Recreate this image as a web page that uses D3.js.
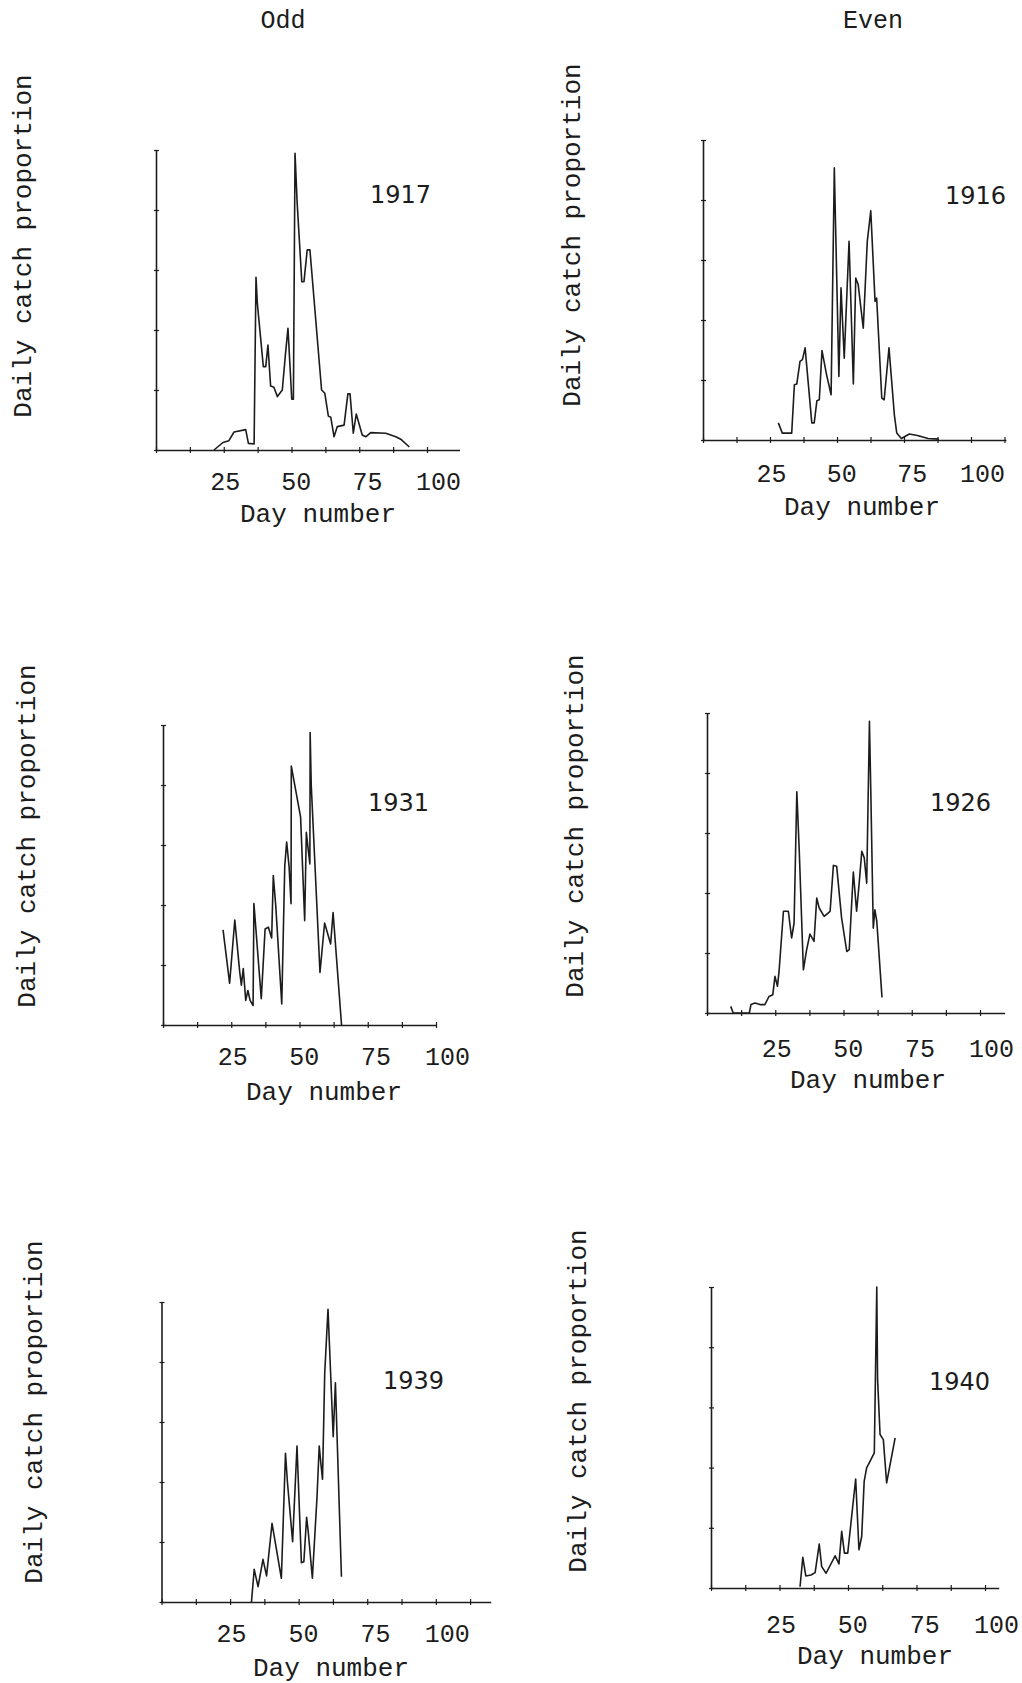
<!DOCTYPE html>
<html>
<head>
<meta charset="utf-8">
<script src="https://cdn.jsdelivr.net/npm/d3@7"></script>
<style>
  body { margin: 0; background: #fff; }
  svg { display: block; }
</style>
</head>
<body>
<svg id="chart" width="1022" height="1683"></svg>
<script>
// daily catch proportion by day number
var days1917 = [21.4, 24.7, 26.9, 28.8, 33.1, 34.1, 36.2, 36.9, 37.4, 39.6, 40.5, 41.3, 42.3, 43.5, 44.8, 46.6, 47.8, 48.7, 50.1, 50.7, 51.3, 52.1, 53.8, 54.6, 55.8, 56.8, 61.1, 62.3, 63.6, 64.5, 65.7, 66.9, 69.4, 70.8, 71.6, 72.8, 73.9, 76.1, 77.4, 79.2, 84.8, 88.5, 90.3, 93.5];
var catch1917 = [0, .0025, .0031, .006, .0068, .0022, .002, .0576, .0489, .0278, .0278, .035, .0213, .0209, .0178, .02, .0322, .0406, .0169, .0169, .0989, .0822, .0561, .0561, .0667, .0667, .02, .0189, .0113, .0109, .0044, .0078, .0083, .0187, .0187, .0056, .012, .005, .0044, .0058, .0056, .0044, .0036, .001];

var days1916 = [28.1, 29.6, 31.6, 33.1, 34.1, 35.0, 36.2, 37.1, 38.1, 40.6, 41.5, 42.5, 43.4, 44.4, 46.1, 47.8, 49.0, 50.7, 51.5, 52.7, 54.5, 56.1, 57.0, 57.9, 59.8, 61.3, 62.6, 64.2, 64.8, 66.7, 67.6, 69.4, 71.4, 72.3, 74.0, 77.0, 80.0, 84.0, 88.0];
var catch1916 = [.0057, .0023, .0023, .0023, .0184, .0187, .0262, .0268, .0307, .0057, .0057, .0131, .0134, .0298, .0218, .0151, .0907, .0212, .0507, .0273, .0662, .0187, .054, .0518, .0373, .0662, .0764, .0462, .0473, .014, .0134, .0307, .0084, .0023, .0005, .002, .0015, .0005, .0003];

var days1931 = [22.0, 24.4, 26.3, 28.1, 28.7, 29.4, 30.3, 31.1, 31.9, 33.0, 33.3, 36.0, 37.4, 38.6, 39.8, 40.4, 41.3, 43.5, 44.6, 45.3, 46.2, 46.9, 47.0, 50.4, 51.9, 52.5, 53.1, 53.8, 53.9, 54.3, 57.5, 59.2, 61.4, 62.3, 65.4];
var catch1931 = [.0317, .0139, .035, .0177, .0133, .0188, .0082, .0115, .0082, .0065, .0405, .0088, .032, .0326, .029, .0498, .0398, .007, .053, .061, .0526, .0404, .0863, .0693, .0348, .0642, .0592, .0537, .0975, .08, .0175, .034, .027, .0375, 0];

var days1926 = [8.7, 9.6, 15.5, 16.1, 17.6, 19.4, 21.2, 22.7, 24.1, 24.9, 25.8, 26.4, 28.0, 29.8, 31.0, 31.9, 32.9, 33.8, 35.3, 36.5, 37.7, 39.2, 40.2, 41.1, 42.9, 45.1, 46.3, 47.5, 49.3, 51.2, 52.1, 53.6, 54.8, 55.7, 56.7, 57.6, 58.5, 59.5, 60.0, 60.9, 61.5, 62.2, 64.1];
var catch1926 = [.0022, 0, 0, .0028, .0033, .0028, .0028, .0055, .0061, .0122, .0089, .0139, .0339, .0339, .025, .03, .0737, .0539, .0144, .0211, .0263, .0239, .0383, .035, .0322, .0339, .0492, .0489, .0317, .0205, .0211, .047, .0339, .0428, .0539, .0517, .0433, .0972, .0739, .0283, .0344, .0305, .0052];

var days1939 = [32.8, 33.8, 35.2, 37.0, 38.3, 40.3, 43.7, 45.2, 45.9, 47.8, 49.4, 51.0, 51.9, 52.9, 53.5, 55.0, 56.7, 57.5, 58.1, 58.7, 59.5, 60.7, 62.6, 63.4, 65.6];
var catch1939 = [0, .0109, .0051, .0142, .0087, .0262, .0079, .0496, .0401, .0201, .052, .0131, .0134, .0282, .0234, .0079, .0351, .052, .0462, .0409, .0762, .0976, .0551, .0731, .0084];

var days1940 = [32.5, 33.5, 34.6, 36.5, 38.0, 39.5, 40.4, 42.0, 45.3, 46.7, 47.7, 48.7, 49.9, 52.8, 54.0, 55.0, 55.9, 56.8, 59.6, 60.5, 60.8, 61.7, 62.9, 64.1, 67.2];
var catch1940 = [.0004, .0102, .004, .0043, .0051, .0146, .0071, .0049, .0107, .008, .0188, .0116, .0116, .0362, .0127, .0171, .0354, .0399, .0449, .1, .0693, .051, .0493, .0349, .0499];

var columnTitles = ["Odd", "Even"];
var tickLabels = [25, 50, 75, 100];
var yTickValues = [0, .02, .04, .06, .08, .1];
var xTitle = "Day number";
var yTitle = "Daily catch proportion";

var ink = "#1c1c1c";
var mono = "'Liberation Mono', 'Courier New', monospace";

// where each small chart sits on the page (x0 = pixel of day 0, k = px per day)
var panels = [
	{ year: "1917", days: days1917, vals: catch1917, x0: 156, k: 2.71, top: 150, base: 450, xEnd: 112, lab: [370, 203], tickDy: 40, titleX: 318, titleDy: 72, yLab: [31, 246] },
	{ year: "1916", days: days1916, vals: catch1916, x0: 703, k: 2.68, top: 140, base: 440, xEnd: 113, lab: [945, 204], tickDy: 42, titleX: 862, titleDy: 75, yLab: [580, 235] },
	{ year: "1931", days: days1931, vals: catch1931, x0: 163, k: 2.73, top: 725, base: 1025, xEnd: 100, lab: [368, 811], tickDy: 40, titleX: 324, titleDy: 75, yLab: [35, 836] },
	{ year: "1926", days: days1926, vals: catch1926, x0: 707, k: 2.73, top: 713, base: 1013, xEnd: 109, lab: [930, 811], tickDy: 44, titleX: 868, titleDy: 75, yLab: [583, 826] },
	{ year: "1939", days: days1939, vals: catch1939, x0: 161.5, k: 2.743, top: 1302, base: 1602, xEnd: 120, lab: [383, 1389], tickDy: 40, titleX: 331, titleDy: 74, yLab: [42, 1412] },
	{ year: "1940", days: days1940, vals: catch1940, x0: 711, k: 2.74, top: 1287, base: 1588, xEnd: 105, lab: [929, 1390], tickDy: 45, titleX: 875, titleDy: 76, yLab: [586, 1401] }
];

var svg = d3.select("#chart");

// column headings
svg.selectAll("text.col").data(columnTitles).enter().append("text")
	.attr("class", "col")
	.attr("x", function(d, i) { return i === 0 ? 283 : 873; })
	.attr("y", 28)
	.attr("text-anchor", "middle")
	.attr("font-family", mono).attr("font-size", 25).attr("fill", ink)
	.text(function(d) { return d; });

function drawPanel(p) {
	var x = d3.scaleLinear().domain([0, p.xEnd]).range([p.x0, p.x0 + p.xEnd * p.k]);
	var y = d3.scaleLinear().domain([0, 0.1]).range([p.base, p.top]);
	var g = svg.append("g").attr("class", "panel");

	// x axis, unlabelled ticks every 12.5 days
	var xa = g.append("g").attr("transform", "translate(0," + p.base + ")")
		.call(d3.axisBottom(x).tickValues(d3.range(0, p.xEnd + 0.01, 12.5)).tickSize(3).tickSizeOuter(0).tickFormat(""));
	xa.select(".domain").attr("stroke", ink).attr("stroke-width", 1.6);
	xa.selectAll(".tick line").attr("y1", -3).attr("y2", 3).attr("stroke", ink).attr("stroke-width", 1.2);

	// y axis
	var ya = g.append("g").attr("transform", "translate(" + p.x0 + ",0)")
		.call(d3.axisRight(y).tickValues(yTickValues).tickSize(3).tickSizeOuter(0).tickFormat(""));
	ya.select(".domain").attr("stroke", ink).attr("stroke-width", 1.6);
	ya.selectAll(".tick line").attr("x1", -2).attr("x2", 3).attr("stroke", ink).attr("stroke-width", 1.2);

	// the typed labels sit a little wider apart than the ticks
	var lx = d3.scaleLinear().domain([25, 100]).range([x(25) + 1, x(100) + 11]);
	var la = g.append("g").attr("transform", "translate(0," + (p.base + p.tickDy) + ")")
		.call(d3.axisBottom(lx).tickValues(tickLabels).tickSize(0));
	la.select(".domain").remove();
	la.attr("font-family", null).attr("font-size", null);
	la.selectAll("text").attr("y", 0).attr("dy", null)
		.attr("font-family", mono).attr("font-size", 25).attr("fill", ink);

	g.append("text")
		.attr("x", p.titleX).attr("y", p.base + p.titleDy)
		.attr("text-anchor", "middle")
		.attr("font-family", mono).attr("font-size", 26).attr("fill", ink)
		.text(xTitle);

	g.append("text")
		.attr("transform", "translate(" + p.yLab[0] + "," + p.yLab[1] + ") rotate(-90)")
		.attr("text-anchor", "middle")
		.attr("font-family", mono).attr("font-size", 26).attr("fill", ink)
		.text(yTitle);

	g.append("text")
		.attr("x", p.lab[0]).attr("y", p.lab[1])
		.attr("font-family", "'DejaVu Sans', sans-serif").attr("font-size", 24).attr("fill", ink)
		.text(p.year);

	var line = d3.line()
		.x(function(d) { return x(d[0]); })
		.y(function(d) { return y(d[1]); });

	g.append("path")
		.datum(d3.zip(p.days, p.vals))
		.attr("d", line)
		.attr("fill", "none")
		.attr("stroke", ink)
		.attr("stroke-width", 1.6)
		.attr("stroke-linejoin", "round");
}

panels.forEach(drawPanel);
</script>
</body>
</html>
